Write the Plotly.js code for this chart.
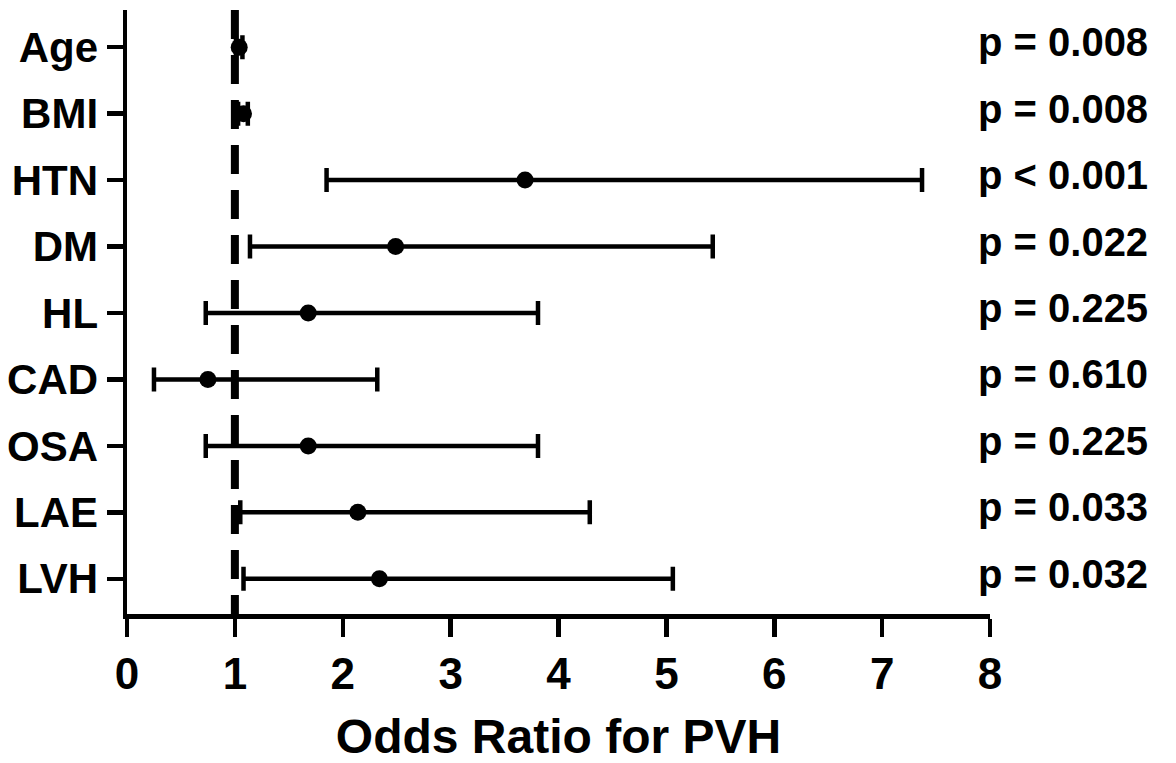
<!DOCTYPE html>
<html><head><meta charset="utf-8">
<script src="https://cdn.plot.ly/plotly-3.0.1.min.js"></script>
<style>html,body{margin:0;padding:0;background:#fff}</style>
</head><body><div id="chart" style="width:1176px;height:763px"></div>
<script>
const categories = ["Age","BMI","HTN","DM","HL","CAD","OSA","LAE","LVH"];
const oddsRatio = [1.04, 1.08, 3.69, 2.49, 1.68, 0.75, 1.68, 2.14, 2.34];
const ciLower   = [1.01, 1.03, 1.85, 1.14, 0.73, 0.25, 0.73, 1.05, 1.08];
const ciUpper   = [1.07, 1.12, 7.37, 5.43, 3.81, 2.32, 3.81, 4.29, 5.06];
const pValues   = ["p = 0.008","p = 0.008","p < 0.001","p = 0.022","p = 0.225","p = 0.610","p = 0.225","p = 0.033","p = 0.032"];
const xTicks = [0,1,2,3,4,5,6,7,8];

const idx = categories.map((c,i)=>i);
const font = {family:"Liberation Sans, Arial, sans-serif", color:"#000", weight:"bold"};

const trace = {
  type:"scatter", mode:"markers",
  x: oddsRatio, y: idx,
  marker:{color:"#000", size:17, symbol:"circle"},
  error_x:{type:"data", symmetric:false,
    array: ciUpper.map((u,i)=>u-oddsRatio[i]),
    arrayminus: ciLower.map((l,i)=>oddsRatio[i]-l),
    color:"#000", thickness:4.5, width:12},
  hoverinfo:"skip", showlegend:false, cliponaxis:false
};

const annotations = pValues.map((p,i)=>({
  xref:"paper", x:1.1855, xanchor:"right",
  yref:"y", y:i, yanchor:"middle", yshift:5,
  text:p, showarrow:false,
  font:Object.assign({}, font, {size:40})
}));

const layout = {
  width:1176, height:763,
  margin:{l:127, r:186, t:10, b:149},
  paper_bgcolor:"#fff", plot_bgcolor:"#fff",
  showlegend:false,
  xaxis:{range:[0,8], tickvals:xTicks, ticktext:xTicks.map(String),
    showgrid:false, zeroline:false, showline:true, linecolor:"#000", linewidth:4.5,
    ticks:"outside", ticklen:18, tickwidth:4.5, tickcolor:"#000",
    tickfont:Object.assign({}, font, {size:44}),
    title:{text:"Odds Ratio for PVH", font:Object.assign({}, font, {size:48}), standoff:26}},
  yaxis:{range:[8.53,-0.56], tickvals:idx, ticktext:categories,
    showgrid:false, zeroline:false, showline:true, linecolor:"#000", linewidth:4.5,
    ticks:"outside", ticklen:16, tickwidth:4.5, tickcolor:"#000",
    tickfont:Object.assign({}, font, {size:42})},
  shapes:[{type:"line", xref:"x", x0:1, x1:1, yref:"paper", y0:1, y1:0,
    line:{color:"#000", width:8, dash:"29px,16px"}, layer:"below"}],
  annotations: annotations
};

Plotly.newPlot("chart",[trace],layout,{displayModeBar:false, staticPlot:true});
</script></body></html>
